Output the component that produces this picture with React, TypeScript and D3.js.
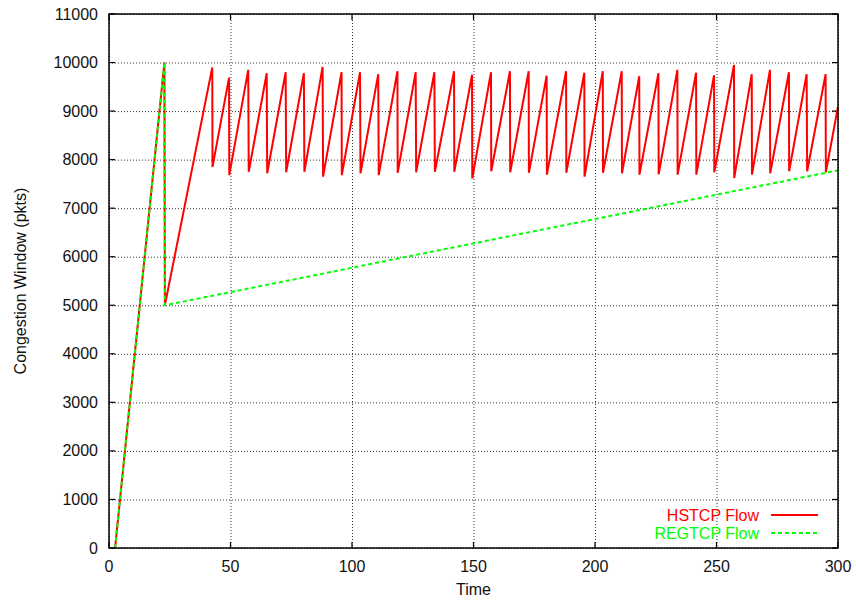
import React, { useEffect, useRef } from 'react';
import * as d3 from 'd3';

// HSTCP flow: time (s) and congestion window (pkts)
const hstcpTime = [
  2.5, 22.8, 23.0, 42.5, 42.6, 49.4, 49.5, 57.3, 57.5, 64.9, 65.1, 72.7, 72.9,
  80.2, 80.4, 87.9, 88.1, 95.7, 95.8, 103.3, 103.5, 110.8, 111.0, 118.7, 118.8,
  126.2, 126.4, 133.9, 134.1, 142.0, 142.1, 149.4, 149.5, 157.2, 157.3, 165.0,
  165.1, 172.7, 172.8, 180.1, 180.2, 188.1, 188.2, 195.6, 195.7, 203.2, 203.3,
  211.0, 211.1, 218.2, 218.3, 226.1, 226.2, 233.9, 234.0, 241.6, 241.7, 249.0,
  249.1, 257.2, 257.3, 264.5, 264.6, 272.0, 272.1, 279.8, 279.9, 287.1, 287.3,
  294.9, 295.0, 300,
];
const hstcpCwnd = [
  0, 10000, 5000, 9900, 7850, 9690, 7680, 9850, 7750, 9780, 7720, 9800, 7740,
  9780, 7750, 9910, 7650, 9800, 7680, 9800, 7720, 9760, 7680, 9820, 7730,
  9800, 7740, 9800, 7750, 9820, 7750, 9750, 7610, 9800, 7760, 9820,
  7740, 9820, 7730, 9730, 7690, 9820, 7730, 9790, 7650, 9820, 7730,
  9820, 7720, 9720, 7690, 9780, 7700, 9850, 7690, 9790, 7690, 9740,
  7740, 9950, 7620, 9760, 7690, 9850, 7720, 9800, 7760, 9760, 7760,
  9760, 7740, 9090,
];

// Regular TCP flow
const regTime = [2.5, 22.8, 23.0, 300];
const regCwnd = [0, 10000, 5000, 7780];

const xTicks = [0, 50, 100, 150, 200, 250, 300];
const yTicks = [0, 1000, 2000, 3000, 4000, 5000, 6000, 7000, 8000, 9000, 10000, 11000];

const seriesNames = ['HSTCP Flow', 'REGTCP Flow'];
const seriesColors = ['#ff0000', '#00ff00'];

const W = 856;
const H = 601;
const FONT = 'Liberation Sans, Arial, Helvetica, sans-serif';

const App = () => {
  const ref = useRef<SVGSVGElement>(null);

  useEffect(() => {
    const svg = d3.select(ref.current);
    svg.selectAll('*').remove();

    const left = 109, right = 838, top = 14, bottom = 548;
    const x = d3.scaleLinear().domain([0, 300]).range([left, right]);
    const y = d3.scaleLinear().domain([0, 11000]).range([bottom, top]);

    // grid
    const grid = svg.append('g')
      .attr('stroke', '#333')
      .attr('stroke-width', 1)
      .attr('stroke-dasharray', '1,2');
    grid.selectAll('.gx')
      .data(xTicks)
      .enter()
      .append('line')
      .attr('x1', d => x(d) + 0.5)
      .attr('x2', d => x(d) + 0.5)
      .attr('y1', top)
      .attr('y2', bottom);
    grid.selectAll('.gy')
      .data(yTicks)
      .enter()
      .append('line')
      .attr('x1', left)
      .attr('x2', right)
      .attr('y1', d => y(d) + 0.5)
      .attr('y2', d => y(d) + 0.5);

    // ticks on all four sides, pointing inward
    const tl = 6;
    const ticks = svg.append('g').attr('stroke', '#000').attr('stroke-width', 1.2);
    xTicks.forEach(t => {
      ticks.append('line').attr('x1', x(t)).attr('x2', x(t)).attr('y1', bottom).attr('y2', bottom - tl);
      ticks.append('line').attr('x1', x(t)).attr('x2', x(t)).attr('y1', top).attr('y2', top + tl);
    });
    yTicks.forEach(t => {
      ticks.append('line').attr('x1', left).attr('x2', left + tl).attr('y1', y(t)).attr('y2', y(t));
      ticks.append('line').attr('x1', right).attr('x2', right - tl).attr('y1', y(t)).attr('y2', y(t));
    });

    // tick labels
    svg.append('g')
      .selectAll('text')
      .data(xTicks)
      .enter()
      .append('text')
      .attr('x', d => x(d))
      .attr('y', bottom + 24)
      .attr('text-anchor', 'middle')
      .attr('font-family', FONT)
      .attr('font-size', 16)
      .attr('fill', '#111')
      .text(d => d);

    svg.append('g')
      .selectAll('text')
      .data(yTicks)
      .enter()
      .append('text')
      .attr('x', left - 11)
      .attr('y', d => y(d) + 5.5)
      .attr('text-anchor', 'end')
      .attr('font-family', FONT)
      .attr('font-size', 16)
      .attr('fill', '#111')
      .text(d => d);

    // axis titles
    svg.append('text')
      .attr('x', (left + right) / 2)
      .attr('y', 595)
      .attr('text-anchor', 'middle')
      .attr('font-family', FONT)
      .attr('font-size', 16)
      .attr('fill', '#111')
      .text('Time');

    svg.append('text')
      .attr('transform', `translate(26,${(top + bottom) / 2}) rotate(-90)`)
      .attr('text-anchor', 'middle')
      .attr('font-family', FONT)
      .attr('font-size', 16)
      .attr('fill', '#111')
      .text('Congestion Window (pkts)');

    // lines
    const line = d3.line<[number, number]>()
      .x(d => x(d[0]))
      .y(d => y(d[1]));

    const hstcp = hstcpTime.map((t, i) => [t, hstcpCwnd[i]] as [number, number]);
    const reg = regTime.map((t, i) => [t, regCwnd[i]] as [number, number]);

    const plot = svg.append('g');
    plot.append('path')
      .datum(hstcp)
      .attr('d', line)
      .attr('fill', 'none')
      .attr('stroke', seriesColors[0])
      .attr('stroke-width', 2)
      .attr('stroke-linejoin', 'miter');

    plot.append('path')
      .datum(reg)
      .attr('d', line)
      .attr('fill', 'none')
      .attr('stroke', seriesColors[1])
      .attr('stroke-width', 2)
      .attr('stroke-dasharray', '4,3');

    // border
    svg.append('rect')
      .attr('x', left)
      .attr('y', top)
      .attr('width', right - left)
      .attr('height', bottom - top)
      .attr('fill', 'none')
      .attr('stroke', '#000')
      .attr('stroke-width', 1.5);

    // legend
    const legend = svg.append('g');
    seriesNames.forEach((name, i) => {
      const ly = 515 + i * 18;
      legend.append('text')
        .attr('x', 759)
        .attr('y', ly + 5.5)
        .attr('text-anchor', 'end')
        .attr('font-family', FONT)
        .attr('font-size', 16)
        .attr('fill', seriesColors[i])
        .text(name);
      legend.append('line')
        .attr('x1', 771)
        .attr('x2', 818)
        .attr('y1', ly)
        .attr('y2', ly)
        .attr('stroke', seriesColors[i])
        .attr('stroke-width', 2)
        .attr('stroke-dasharray', i === 1 ? '4,3' : null);
    });
  }, []);

  return (
    <svg
      ref={ref}
      width={W}
      height={H}
      style={{ position: 'absolute', left: 0, top: 0, background: '#fff' }}
    ></svg>
  );
};

export default App;
